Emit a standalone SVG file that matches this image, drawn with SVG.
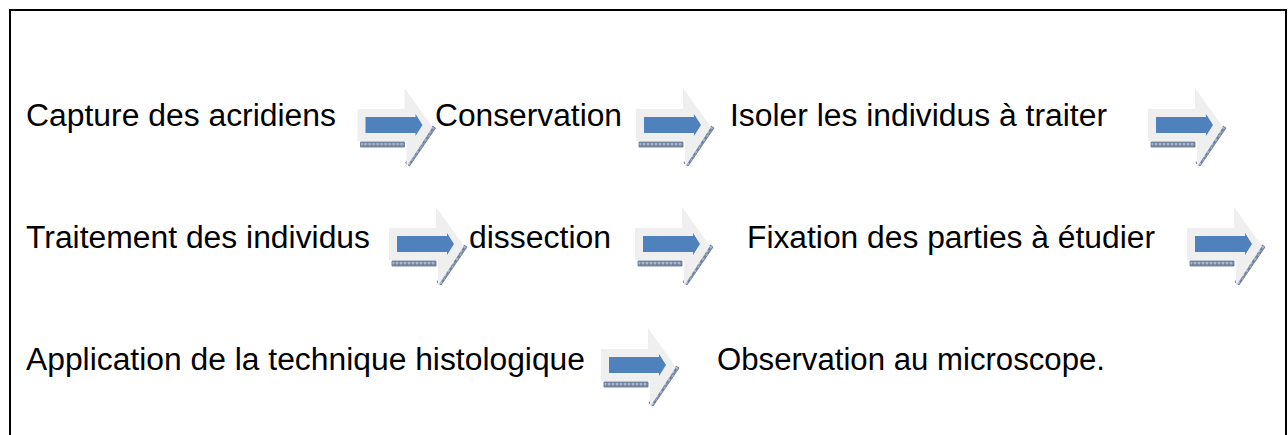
<svg xmlns="http://www.w3.org/2000/svg" width="1288" height="435" viewBox="0 0 1288 435">
<style>
.t{font-family:"Liberation Sans",Arial,sans-serif;font-size:31px;fill:#000}
.g{fill:#efefef}
.b{fill:#4f81bd}
.h{fill:url(#hatch);stroke:#6a7b99;stroke-width:0.9}
</style>
<defs>
<pattern id="hatch" patternUnits="userSpaceOnUse" width="4" height="4">
<rect width="4" height="4" fill="#aab5c8"/>
<path d="M0,2H4M2,0V4" stroke="#5a6b8c" stroke-width="0.9"/>
</pattern>
<g id="arr">
<polygon class="h" points="3,54 47,54 47,59 3,59"/>
<polygon class="h" points="48,75 52,78 78,40 75,38"/>
<path class="g" d="M0,21H47V0L75,39L49,79V53H0Z"/>
<path class="b" d="M8,29H58V26L65,37L58,48V45H8Z"/>
</g>
</defs>
<rect x="10" y="10" width="1276" height="440" fill="#fff" stroke="#000" stroke-width="2"/>
<g id="connectors">
<use href="#arr" transform="translate(357.5,88)"/>
<use href="#arr" transform="translate(636,88)"/>
<use href="#arr" transform="translate(1148,88)"/>
<use href="#arr" transform="translate(389,207)"/>
<use href="#arr" transform="translate(635,207)"/>
<use href="#arr" transform="translate(1187,207)"/>
<use href="#arr" transform="translate(601,328)"/>
</g>
<g id="n1"><text class="t" x="26" y="126" textLength="310" lengthAdjust="spacingAndGlyphs">Capture des acridiens</text></g>
<g id="n2"><text class="t" x="435" y="126" textLength="187" lengthAdjust="spacingAndGlyphs">Conservation</text></g>
<g id="n3"><text class="t" x="730" y="126" textLength="377" lengthAdjust="spacingAndGlyphs">Isoler les individus à traiter</text></g>
<g id="n4"><text class="t" x="26" y="248" textLength="344" lengthAdjust="spacingAndGlyphs">Traitement des individus</text></g>
<g id="n5"><text class="t" x="469" y="248" textLength="142" lengthAdjust="spacingAndGlyphs">dissection</text></g>
<g id="n6"><text class="t" x="747" y="248" textLength="408" lengthAdjust="spacingAndGlyphs">Fixation des parties à étudier</text></g>
<g id="n7"><text class="t" x="26" y="370" textLength="559" lengthAdjust="spacingAndGlyphs">Application de la technique histologique</text></g>
<g id="n8"><text class="t" x="717" y="370" textLength="388" lengthAdjust="spacingAndGlyphs">Observation au microscope.</text></g>
</svg>
